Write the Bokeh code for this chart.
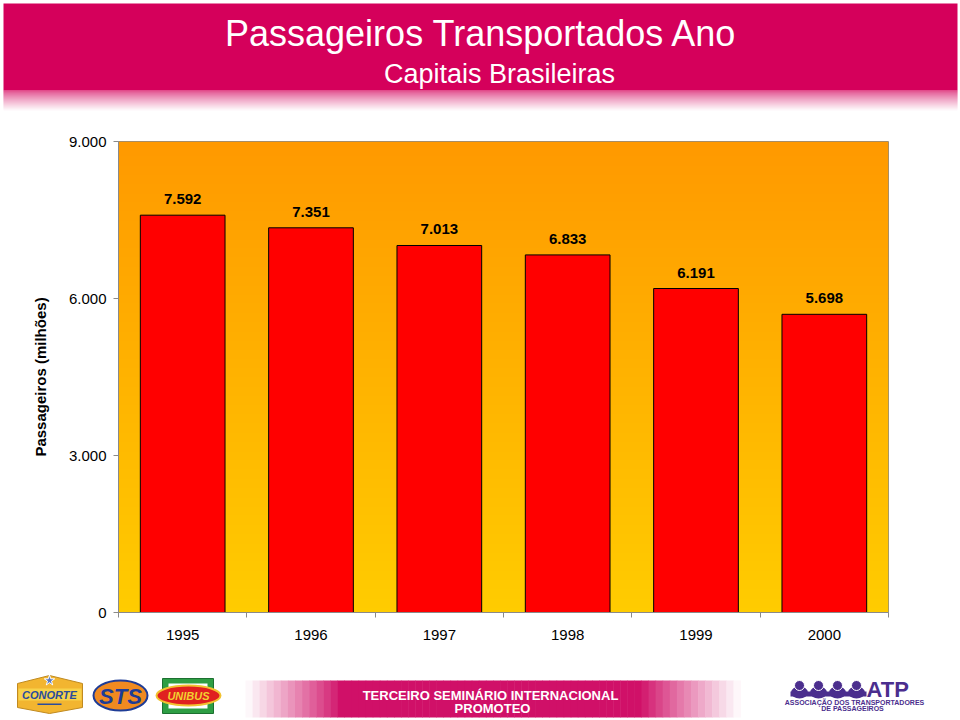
import numpy as np
from bokeh.plotting import figure
from bokeh.models import Range1d, FixedTicker
from bokeh.core.properties import value
from bokeh.embed import file_html
from bokeh.resources import INLINE

# ---------------- data ----------------
years = ["1995", "1996", "1997", "1998", "1999", "2000"]
passengers = [7592, 7351, 7013, 6833, 6191, 5698]   # milhões (thousand sep. ".")
y_ticks = [0, 3000, 6000, 9000]
title_text = "Passageiros Transportados Ano"
subtitle_text = "Capitais Brasileiras"
y_title = "Passageiros (milhões)"


def fmt(v):
    return f"{v:,}".replace(",", ".")


FONT = value("Liberation Sans")
W = 960
MAGENTA = "#D5005B"


def blank(height, yr):
    f = figure(width=W, height=height, x_range=Range1d(0, W), y_range=yr,
               output_backend="svg", toolbar_location=None,
               x_axis_location=None, y_axis_location=None, min_border=0)
    f.grid.visible = False
    f.outline_line_color = None
    f.background_fill_color = "white"
    f.border_fill_color = "white"
    return f


def mix(c1, c2, t):
    return "#%02x%02x%02x" % tuple(int(round(a + (b - a) * t)) for a, b in zip(c1, c2))


# ---------------- header ----------------
hdr = blank(128, Range1d(128, 0))
hdr.quad(left=3, right=957, top=3, bottom=90, fill_color=MAGENTA, line_color=None)
mag_rgb = (213, 0, 91)
n_fade = 20
fade_top = [90 + i for i in range(n_fade)]
hdr.quad(left=3, right=957, top=fade_top, bottom=[t + 1.05 for t in fade_top],
         fill_color=[mix(mag_rgb, (255, 255, 255), ((i + 1) / (n_fade + 1)) ** 0.8) for i in range(n_fade)],
         line_color=None)
hdr.text(x=[481], y=[33], text=[title_text], text_align="center", text_baseline="middle",
         text_font=FONT, text_font_size="36px", text_color="white")
hdr.text(x=[499], y=[73], text=[subtitle_text], text_align="center", text_baseline="middle",
         text_font=FONT, text_font_size="27px", text_color="white")

# ---------------- main chart ----------------
xs = list(range(1, len(years) + 1))
p = figure(width=W, height=527, x_range=Range1d(0.5, len(years) + 0.5),
           y_range=Range1d(y_ticks[0], y_ticks[-1]),
           output_backend="svg", toolbar_location=None,
           min_border_left=118, min_border_right=72, min_border_top=13, min_border_bottom=43)
p.background_fill_color = "white"
p.border_fill_color = "white"
p.outline_line_color = "#8a8a8a"

# gradient background (orange top -> yellow bottom)
N = 400
img = np.empty((N, 1), dtype=np.uint32)
view = img.view(dtype=np.uint8).reshape((N, 1, 4))
t = np.linspace(0, 1, N)  # 0 bottom, 1 top
view[:, 0, 0] = 255
view[:, 0, 1] = np.round(204 + (153 - 204) * t).astype(np.uint8)
view[:, 0, 2] = 0
view[:, 0, 3] = 255
p.image_rgba(image=[img], x=0.5, y=y_ticks[0], dw=len(years), dh=y_ticks[-1] - y_ticks[0])

p.vbar(x=xs, top=passengers, width=0.66, fill_color="#FF0000", line_color="black", line_width=1)
p.text(x=xs, y=passengers, text=[fmt(v) for v in passengers], text_align="center",
       text_baseline="bottom", y_offset=-11, text_font=FONT, text_font_style="bold",
       text_font_size="15px", text_color="black")

p.xgrid.visible = False
p.ygrid.ticker = FixedTicker(ticks=y_ticks)
p.ygrid.grid_line_color = "#A06A00"
p.ygrid.grid_line_alpha = 0.35

p.yaxis.ticker = FixedTicker(ticks=y_ticks)
p.yaxis.major_label_overrides = {t_: fmt(t_) for t_ in y_ticks}
p.yaxis.major_label_text_font = "Liberation Sans"
p.yaxis.major_label_text_font_size = "15px"
p.yaxis.major_label_text_color = "black"
p.yaxis.major_tick_out = 5
p.yaxis.major_tick_in = 0
p.yaxis.major_label_standoff = 7
p.yaxis.minor_tick_line_color = None
p.yaxis.axis_line_color = "#8a8a8a"
p.yaxis.major_tick_line_color = "#8a8a8a"
p.yaxis.axis_label = y_title
p.yaxis.axis_label_text_font = "Liberation Sans"
p.yaxis.axis_label_text_font_style = "bold"
p.yaxis.axis_label_text_font_size = "15px"
p.yaxis.axis_label_text_color = "black"
p.yaxis.axis_label_standoff = 17

p.xaxis.ticker = FixedTicker(ticks=xs, minor_ticks=[x - 0.5 for x in xs] + [xs[-1] + 0.5])
p.xaxis.major_label_overrides = {x: y for x, y in zip(xs, years)}
p.xaxis.major_label_text_font = "Liberation Sans"
p.xaxis.major_label_text_font_size = "15px"
p.xaxis.major_label_text_color = "black"
p.xaxis.major_tick_line_color = None
p.xaxis.major_tick_out = 0
p.xaxis.major_tick_in = 0
p.xaxis.minor_tick_out = 5
p.xaxis.minor_tick_in = 0
p.xaxis.minor_tick_line_color = "#8a8a8a"
p.xaxis.axis_line_color = "#8a8a8a"
p.xaxis.major_label_standoff = 12

# ---------------- footer (logos) ----------------
FH = 65
ftr = blank(FH, Range1d(FH, 0))
# CONORTE (local y = page y - 655)
ftr.patch(x=[49, 82, 82, 49, 17, 17], y=[20, 28, 52, 58, 52, 28], fill_color="#F2B530",
          line_color="#C08A20", line_width=1)
ftr.quad(left=18, right=81, top=33, bottom=45, fill_color="#F7D24A", line_color=None)
ftr.text(x=[49], y=[39], text=["CONORTE"], text_align="center", text_baseline="middle",
         text_font=FONT, text_font_style="bold italic", text_font_size="11px", text_color="#2A4C9C")
ftr.scatter(x=[49], y=[25], marker="star", size=11, fill_color="#5A7AC0", line_color="white")
ftr.quad(left=37, right=61, top=48, bottom=49.5, fill_color="#2A4C9C", line_color=None)
# STS
ftr.ellipse(x=[120], y=[40], width=54, height=30, fill_color="#F08A20", line_color="#1E3C96",
            line_width=2)
ftr.text(x=[120], y=[41], text=["STS"], text_align="center", text_baseline="middle",
         text_font=FONT, text_font_style="bold italic", text_font_size="22px", text_color="#1E3C96")
# UNIBUS
ftr.quad(left=162, right=213, top=23, bottom=58, fill_color="#2E9E44", line_color="#1C7030")
ftr.quad(left=168, right=207, top=28, bottom=53, fill_color="white", line_color=None)
ftr.ellipse(x=[188], y=[40], width=64, height=20, fill_color="#E02020", line_color="#F2C230",
            line_width=2)
ftr.text(x=[188], y=[40], text=["UNIBUS"], text_align="center", text_baseline="middle",
         text_font=FONT, text_font_style="bold italic", text_font_size="11px", text_color="#F2D030")
# middle band
n_strip = 70
band_l, band_r = 245, 740
sw = (band_r - band_l) / n_strip
band_rgb = (208, 16, 104)
lefts = [band_l + i * sw for i in range(n_strip)]
cols = []
for i in range(n_strip):
    c = band_l + (i + 0.5) * sw
    if c < 340:
        tt = (340 - c) / (340 - band_l)
    elif c > 640:
        tt = (c - 640) / (band_r - 640)
    else:
        tt = 0.0
    cols.append(mix(band_rgb, (255, 255, 255), min(1.0, tt) ** 0.9))
ftr.quad(left=lefts, right=[l + sw + 0.5 for l in lefts], top=25, bottom=62,
         fill_color=cols, line_color=None)
ftr.text(x=[490], y=[40], text=["TERCEIRO SEMINÁRIO INTERNACIONAL"], text_align="center",
         text_baseline="middle", text_font=FONT, text_font_style="bold",
         text_font_size="13px", text_color="white")
ftr.text(x=[492], y=[53], text=["PROMOTEO"], text_align="center", text_baseline="middle",
         text_font=FONT, text_font_style="bold", text_font_size="13px", text_color="white")
# ATP
purple = "#4B2E8E"
heads_x = [799, 818, 837, 856]
ftr.ellipse(x=heads_x, y=[37] * 4, width=17, height=12, fill_color=purple, line_color=None)
ftr.quad(left=790, right=866, top=36, bottom=41, fill_color=purple, line_color=None)
ftr.circle(x=heads_x, y=[30] * 4, radius=5, fill_color=purple, line_color="white", line_width=1)
ftr.text(x=[866], y=[34], text=["ATP"], text_align="left", text_baseline="middle",
         text_font=FONT, text_font_style="bold", text_font_size="22px", text_color=purple)
ftr.text(x=[854], y=[47], text=["ASSOCIAÇÃO DOS TRANSPORTADORES"], text_align="center",
         text_baseline="middle", text_font=FONT, text_font_style="bold",
         text_font_size="7px", text_color=purple)
ftr.text(x=[852], y=[53], text=["DE PASSAGEIROS"], text_align="center",
         text_baseline="middle", text_font=FONT, text_font_style="bold",
         text_font_size="7px", text_color=purple)

open("out.html", "w").write(file_html([hdr, p, ftr], INLINE))
